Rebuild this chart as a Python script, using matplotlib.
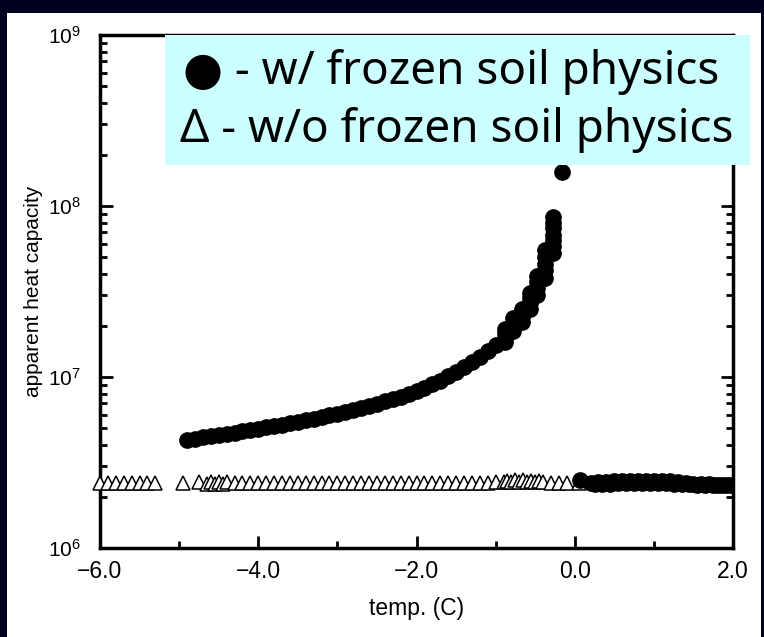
import matplotlib
matplotlib.use("Agg")
import matplotlib.pyplot as plt
from matplotlib.patches import Rectangle
from matplotlib.ticker import FixedLocator, LogLocator, NullFormatter

plt.rcParams['font.family'] = ['Liberation Sans', 'DejaVu Sans']
plt.rcParams['mathtext.fontset'] = 'custom'
plt.rcParams['mathtext.rm'] = 'Liberation Sans'
plt.rcParams['mathtext.it'] = 'Liberation Sans'

# ---- data: with frozen soil physics (filled circles) ----
frozen_temp = [-4.9, -4.8, -4.7, -4.6, -4.5, -4.4, -4.3, -4.2, -4.1, -4.0,
               -3.9, -3.8, -3.7, -3.6, -3.5, -3.4, -3.3, -3.2, -3.1, -3.0,
               -2.9, -2.8, -2.7, -2.6, -2.5, -2.4, -2.3, -2.2, -2.1, -2.0,
               -1.9, -1.8, -1.7, -1.6, -1.5, -1.4, -1.3, -1.2, -1.1, -1.0,
               -0.88, -0.88, -0.88, -0.88,
               -0.78, -0.78, -0.78, -0.78,
               -0.665, -0.665, -0.665, -0.665,
               -0.56, -0.56, -0.56, -0.56,
               -0.48, -0.48, -0.48, -0.48,
               -0.37, -0.37, -0.37, -0.37, -0.37,
               -0.27, -0.27, -0.27, -0.27, -0.27, -0.27, -0.27,
               -0.16,
               0.07, 0.2, 0.25, 0.3, 0.35, 0.4, 0.45, 0.5, 0.55, 0.6, 0.65, 0.7, 0.75,
               0.8, 0.85, 0.9, 0.95, 1.0, 1.05, 1.1, 1.15, 1.2, 1.25, 1.3, 1.35, 1.4,
               1.45, 1.5, 1.55, 1.6, 1.65, 1.7, 1.75, 1.8, 1.85, 1.9, 1.95, 2.0]
frozen_cap = [4.29e6, 4.36e6, 4.43e6, 4.50e6, 4.57e6, 4.65e6, 4.72e6, 4.81e6, 4.90e6, 4.99e6,
              5.08e6, 5.16e6, 5.25e6, 5.36e6, 5.47e6, 5.58e6, 5.70e6, 5.83e6, 5.97e6, 6.11e6,
              6.27e6, 6.43e6, 6.61e6, 6.79e6, 6.98e6, 7.19e6, 7.43e6, 7.69e6, 7.98e6, 8.30e6,
              8.65e6, 9.06e6, 9.53e6, 1.007e7, 1.07e7, 1.14e7, 1.22e7, 1.31e7, 1.41e7, 1.54e7,
              1.60e7, 1.70e7, 1.80e7, 1.90e7,
              1.85e7, 1.95e7, 2.05e7, 2.20e7,
              2.10e7, 2.25e7, 2.40e7, 2.50e7,
              2.50e7, 2.70e7, 2.90e7, 3.10e7,
              3.00e7, 3.30e7, 3.60e7, 3.90e7,
              3.80e7, 4.20e7, 4.60e7, 5.00e7, 5.50e7,
              5.30e7, 5.80e7, 6.30e7, 6.80e7, 7.40e7, 8.00e7, 8.60e7,
              1.58e8,
              2.50e6, 2.40e6, 2.36e6, 2.42e6, 2.38e6, 2.44e6, 2.38e6, 2.46e6, 2.40e6, 2.47e6, 2.40e6,
              2.47e6, 2.41e6, 2.48e6, 2.41e6, 2.47e6, 2.40e6, 2.46e6, 2.40e6, 2.45e6, 2.40e6,
              2.46e6, 2.38e6, 2.42e6, 2.37e6, 2.40e6, 2.36e6, 2.38e6, 2.35e6, 2.37e6, 2.35e6,
              2.36e6, 2.35e6, 2.35e6, 2.34e6, 2.35e6, 2.34e6, 2.34e6]

# ---- data: without frozen soil physics (open triangles) ----
nofrozen_temp = [-6.0, -5.9, -5.8, -5.7, -5.6, -5.5, -5.4, -5.3,
                 -4.95,
                 -4.75, -4.65, -4.6, -4.55, -4.5, -4.45, -4.4, -4.3, -4.2, -4.1, -4.0,
                 -3.9, -3.8, -3.7, -3.6, -3.5, -3.4, -3.3, -3.2, -3.1, -3.0,
                 -2.9, -2.8, -2.7, -2.6, -2.5, -2.4, -2.3, -2.2, -2.1, -2.0,
                 -1.9, -1.8, -1.7, -1.6, -1.5, -1.4, -1.3, -1.2, -1.1, -1.0,
                 -0.9, -0.85, -0.8, -0.75, -0.7, -0.65, -0.6, -0.55, -0.5, -0.45,
                 -0.4, -0.3, -0.2, -0.1, 0.05]
nofrozen_cap = [2.40e6, 2.40e6, 2.40e6, 2.40e6, 2.40e6, 2.40e6, 2.40e6, 2.40e6,
                2.40e6,
                2.44e6, 2.38e6, 2.44e6, 2.38e6, 2.42e6, 2.38e6, 2.42e6, 2.40e6, 2.40e6, 2.40e6, 2.40e6,
                2.40e6, 2.40e6, 2.40e6, 2.40e6, 2.40e6, 2.40e6, 2.40e6, 2.40e6, 2.40e6, 2.40e6,
                2.40e6, 2.40e6, 2.40e6, 2.40e6, 2.40e6, 2.40e6, 2.40e6, 2.40e6, 2.40e6, 2.40e6,
                2.40e6, 2.40e6, 2.40e6, 2.40e6, 2.40e6, 2.40e6, 2.40e6, 2.40e6, 2.40e6, 2.42e6,
                2.44e6, 2.48e6, 2.44e6, 2.50e6, 2.44e6, 2.50e6, 2.44e6, 2.48e6, 2.42e6, 2.46e6,
                2.42e6, 2.40e6, 2.40e6, 2.40e6, 2.40e6]

x_ticks = [-6.0, -4.0, -2.0, 0.0, 2.0]
x_ticklabels = ["\u22126.0", "\u22124.0", "\u22122.0", "0.0", "2.0"]
x_minor = [-5.0, -3.0, -1.0, 1.0]
y_ticks = [1e6, 1e7, 1e8, 1e9]
y_ticklabels = ["$10^6$", "$10^7$", "$10^8$", "$10^9$"]
legend_lines = ["\u25CF - w/ frozen soil physics", "\u0394 - w/o frozen soil physics"]

fig = plt.figure(figsize=(7.64, 6.37), dpi=100)
fig.patch.set_facecolor('#00001e')
# white slide area
fig.patches.append(Rectangle((7 / 764, 0), 754 / 764, (637 - 13) / 637,
                             transform=fig.transFigure, facecolor='white',
                             edgecolor='none', zorder=-10))

ax = fig.add_axes([100 / 764, 89 / 637, 633 / 764, 513 / 637])
ax.set_zorder(1)
ax.set_facecolor('white')

ax.plot(nofrozen_temp, nofrozen_cap, linestyle='none', marker='^', markersize=10.5,
        markerfacecolor='white', markeredgecolor='black', markeredgewidth=1.1, zorder=3,
        clip_on=False)
ax.plot(frozen_temp, frozen_cap, linestyle='none', marker='o', markersize=11,
        markerfacecolor='black', markeredgecolor='black', zorder=4)

ax.set_yscale('log')
ax.set_xlim(-6.0, 2.0)
ax.set_ylim(1e6, 1e9)

ax.xaxis.set_major_locator(FixedLocator(x_ticks))
ax.xaxis.set_minor_locator(FixedLocator(x_minor))
ax.set_xticklabels(x_ticklabels)
ax.yaxis.set_major_locator(FixedLocator(y_ticks))
ax.set_yticklabels(y_ticklabels)
ax.yaxis.set_minor_locator(LogLocator(base=10, subs=range(2, 10)))
ax.yaxis.set_minor_formatter(NullFormatter())

ax.tick_params(axis='both', which='both', direction='in', width=2, colors='black')
ax.tick_params(axis='x', which='major', length=9, pad=9, top=False, labelsize=16.5)
ax.tick_params(axis='x', which='minor', length=5, top=False)
ax.tick_params(axis='y', which='major', length=9, right=True, pad=14, labelsize=15)
ax.tick_params(axis='y', which='minor', length=5, right=True)

for s in ax.spines.values():
    s.set_linewidth(2.5)
    s.set_color('black')

ax.set_xlabel('temp. (C)', fontsize=16.5, labelpad=10)
ax.set_ylabel('apparent heat capacity', fontsize=15, labelpad=3)

# legend box (cyan panel)
fig.patches.append(Rectangle((165 / 764, (637 - 165) / 637), 585 / 764, 130 / 637,
                             transform=fig.transFigure, facecolor='#ccffff',
                             edgecolor='none', zorder=5))
fig.text(183 / 764, (637 - 72) / 637, legend_lines[0], fontsize=33,
         family=['Noto Sans', 'DejaVu Sans'], va='center', ha='left', zorder=6)
fig.text(180 / 764, (637 - 130) / 637, legend_lines[1], fontsize=33,
         family=['Noto Sans', 'DejaVu Sans'], va='center', ha='left', zorder=6)

fig.savefig('out.png', dpi=100, facecolor=fig.get_facecolor())
